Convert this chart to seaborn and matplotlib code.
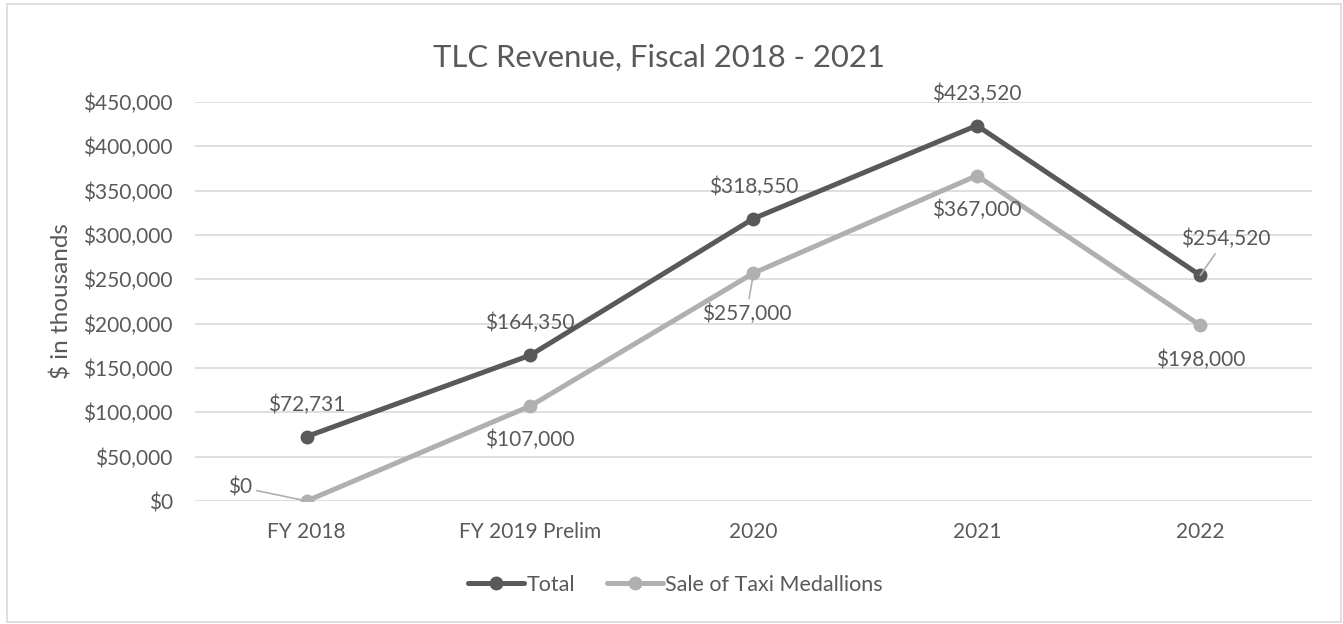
import matplotlib
matplotlib.use("Agg")
import matplotlib.pyplot as plt
from matplotlib.lines import Line2D
from matplotlib.patches import Rectangle
import pandas as pd
import seaborn as sns

# ─── DATA ────────────────────────────────────────────────────────────────────
YEARS      = ["FY 2018", "FY 2019 Prelim", "2020", "2021", "2022"]
TOTAL      = [72731, 164350, 318550, 423520, 254520]
MEDALLIONS = [0, 107000, 257000, 367000, 198000]
SERIES     = ["Total", "Sale of Taxi Medallions"]

# ─── STYLE ───────────────────────────────────────────────────────────────────
DARK  = "#595959"
LIGHT = "#B0B0B0"
GRID  = "#D9D9D9"
TEXT  = "#595959"
FS    = 15

# label offsets in points (dx, dy) and whether a leader line is drawn
TOTAL_OFFS = [(0, 23), (0, 23), (0, 23), (0, 23), (18, 26)]
TOTAL_LEAD = [False, False, False, False, True]
MED_OFFS   = [(-48, 10), (0, -24), (-5, -29), (0, -25), (0, -25)]
MED_LEAD   = [True, False, True, False, False]

sns.set_theme(style="white")
plt.rcParams["font.family"] = ["Lato", "DejaVu Sans"]

df = pd.DataFrame({
    "year": YEARS * 2,
    "value": TOTAL + MEDALLIONS,
    "series": [SERIES[0]] * len(YEARS) + [SERIES[1]] * len(YEARS),
})

fig = plt.figure(figsize=(13.43, 6.24), dpi=100)
ax = fig.add_axes([0.1452, 0.1971, 0.8317, 0.6394])

sns.lineplot(data=df, x="year", y="value", hue="series", palette=[DARK, LIGHT],
             marker="o", markersize=10, markeredgewidth=0, linewidth=3.6,
             sort=False, legend=False, ax=ax)

ax.set_xlim(-0.5, len(YEARS) - 0.5)
ax.set_ylim(0, 450000)
ax.set_yticks(range(0, 450001, 50000))
ax.set_yticklabels([f"${v:,.0f}" for v in range(0, 450001, 50000)])
ax.grid(axis="y", color=GRID, linewidth=1.2)
ax.set_axisbelow(True)
for s in ax.spines.values():
    s.set_visible(False)
ax.tick_params(axis="both", length=0, labelsize=FS, colors=TEXT)
ax.tick_params(axis="y", pad=16)
ax.tick_params(axis="x", pad=15)
ax.set_xlabel("")
ax.set_ylabel("$ in thousands", fontsize=17.5, color=TEXT, labelpad=8)

# data labels
for vals, offs, leads, col in [(TOTAL, TOTAL_OFFS, TOTAL_LEAD, DARK),
                               (MEDALLIONS, MED_OFFS, MED_LEAD, LIGHT)]:
    for i, (v, (dx, dy), lead) in enumerate(zip(vals, offs, leads)):
        kw = {}
        if lead:
            kw["arrowprops"] = dict(arrowstyle="-", color=LIGHT, lw=1.2,
                                    shrinkA=1, shrinkB=0)
        ax.annotate(f"${v:,.0f}", xy=(i, v), xytext=(dx, dy),
                    textcoords="offset points", ha="center", va="center",
                    fontsize=FS, color=TEXT, **kw)

fig.suptitle("TLC Revenue, Fiscal 2018 - 2021", x=0.491, y=0.93,
             fontsize=22.3, color=TEXT)

handles = [Line2D([], [], color=c, marker="o", markersize=10, linewidth=3.6,
                  markeredgewidth=0) for c in (DARK, LIGHT)]
fig.legend(handles, SERIES, loc="center", bbox_to_anchor=(0.503, 0.0625),
           ncol=2, frameon=False, fontsize=15.5, labelcolor=TEXT,
           handlelength=2.6, handletextpad=0.1, columnspacing=1.5)

fig.patches.append(Rectangle((7 / 1343, 2 / 624), 1334 / 1343, 618 / 624,
                             transform=fig.transFigure, fill=False,
                             edgecolor=GRID, linewidth=1.2))

fig.savefig("out.png", dpi=100)
